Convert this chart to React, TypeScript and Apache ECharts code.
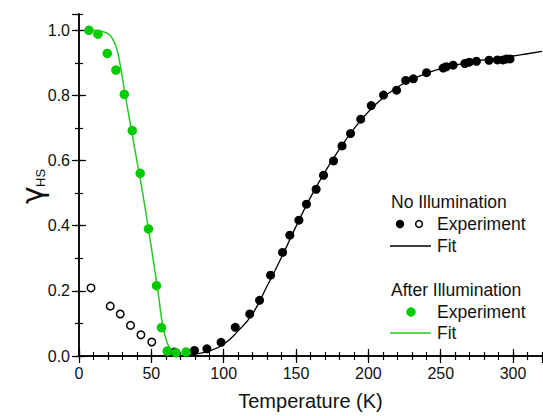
import React, { useEffect, useRef } from "react";
import * as echarts from "echarts";

const xTicks = [0, 50, 100, 150, 200, 250, 300];
const yTicks = [0, 0.2, 0.4, 0.6, 0.8, 1.0];

const noIllumFilled: [number, number][] = [
  [66, 0.012], [79.8, 0.017], [88.4, 0.022], [98.2, 0.042], [108, 0.088], [118, 0.129],
  [124.8, 0.171], [132.4, 0.248], [140.7, 0.318], [145.7, 0.371], [152, 0.417], [157.2, 0.466],
  [163.9, 0.512], [169, 0.555], [175.9, 0.599], [181.8, 0.645], [187.7, 0.683], [194.7, 0.727],
  [202, 0.769], [210.5, 0.801], [219.5, 0.816], [225.8, 0.846], [231.1, 0.851], [240.2, 0.87],
  [251.7, 0.884], [253.8, 0.888], [258.6, 0.893], [266.7, 0.898], [269.7, 0.902], [274.7, 0.905],
  [283.4, 0.908], [289.2, 0.909], [293.1, 0.909], [295.6, 0.912], [297.9, 0.912],
];

const noIllumOpen: [number, number][] = [
  [8.3, 0.209], [21.6, 0.153], [28.5, 0.129], [35.6, 0.094], [42.8, 0.065], [50.3, 0.043],
];

const noIllumFit: [number, number][] = [
  [65, 0], [70, 0.002], [80, 0.006], [90, 0.016], [100, 0.036], [110, 0.077], [120, 0.13],
  [130, 0.215], [140, 0.303], [150, 0.398], [160, 0.487], [170, 0.565], [180, 0.635],
  [190, 0.697], [200, 0.75], [210, 0.792], [220, 0.825], [230, 0.849], [240, 0.868],
  [250, 0.882], [260, 0.893], [270, 0.902], [280, 0.909], [290, 0.915], [300, 0.921],
  [310, 0.928], [320, 0.935],
];

const afterIllum: [number, number][] = [
  [6.9, 1.0], [13.1, 0.988], [19.5, 0.929], [25.5, 0.878], [31.3, 0.803], [36.8, 0.692],
  [42.3, 0.561], [48, 0.39], [53.6, 0.216], [57, 0.087], [61, 0.015], [67, 0.01], [74, 0.012],
];

const afterIllumFit: [number, number][] = [
  [5, 1.0], [10, 1.0], [15, 0.997], [20, 0.99], [23, 0.975], [26, 0.945], [29, 0.88],
  [32, 0.8], [36, 0.7], [40, 0.6], [44, 0.5], [48, 0.39], [52, 0.275], [55, 0.185],
  [58, 0.09], [61, 0.04], [64, 0.017], [67, 0.008], [70, 0.003],
];

const GREEN = "#00cc00";
const FONT = "'Liberation Sans', Arial, sans-serif";

export default function App() {
  const ref = useRef<HTMLDivElement>(null);
  useEffect(() => {
    if (!ref.current) return;
    const chart = echarts.init(ref.current, undefined, { renderer: "svg" });
    const axisLine = { show: true, lineStyle: { color: "#000", width: 1.5 } };
    const majorX = {
      type: "value", min: 0, max: 320, interval: 50,
      axisLine, splitLine: { show: false },
      axisTick: { inside: true, length: 7, lineStyle: { color: "#000", width: 1.2 } },
    };
    const minorX = {
      type: "value", min: 0, max: 320, interval: 10,
      axisLine: { show: false }, splitLine: { show: false }, axisLabel: { show: false },
      axisTick: { inside: true, length: 4, lineStyle: { color: "#000", width: 1.2 } },
    };
    const majorY = {
      type: "value", min: 0, max: 1.05, interval: 0.2,
      axisLine, splitLine: { show: false },
      axisTick: { inside: true, length: 7, lineStyle: { color: "#000", width: 1.2 } },
    };
    const minorY = {
      type: "value", min: 0, max: 1.05, interval: 0.1,
      axisLine: { show: false }, splitLine: { show: false }, axisLabel: { show: false },
      axisTick: { inside: true, length: 4, lineStyle: { color: "#000", width: 1.2 } },
    };
    const legendText = (x: number, y: number, text: string) => ({
      type: "text", x, y,
      style: { text, font: `17.5px ${FONT}`, fill: "#111", textAlign: "left", textVerticalAlign: "middle" },
    });
    chart.setOption({
      animation: false,
      textStyle: { fontFamily: FONT },
      grid: { left: 79, right: 1, top: 14, bottom: 57 },
      xAxis: [
        {
          ...majorX, position: "bottom",
          name: "Temperature (K)", nameLocation: "middle", nameGap: 35,
          nameTextStyle: { fontSize: 20, color: "#111", fontFamily: FONT },
          axisLabel: {
            show: true, fontSize: 16, color: "#111", margin: 9, showMaxLabel: false,
            formatter: (v: number) => (xTicks.includes(v) ? String(v) : ""),
          },
        },
        { ...minorX, position: "bottom" },
        { ...majorX, position: "top", axisLabel: { show: false } },
        { ...minorX, position: "top" },
      ],
      yAxis: [
        {
          ...majorY, position: "left",
          axisLabel: {
            show: true, fontSize: 16, color: "#111", margin: 9, showMaxLabel: false,
            formatter: (v: number) =>
              yTicks.some((t) => Math.abs(t - v) < 1e-6) ? v.toFixed(1) : "",
          },
        },
        { ...minorY, position: "left" },
        { ...majorY, position: "right", axisLabel: { show: false } },
        { ...minorY, position: "right" },
      ],
      series: [
        {
          name: "No Illumination Fit", type: "line", data: noIllumFit, smooth: true,
          showSymbol: false, lineStyle: { color: "#000", width: 1.3 }, z: 2,
        },
        {
          name: "After Illumination Fit", type: "line", data: afterIllumFit, smooth: true,
          showSymbol: false, lineStyle: { color: "#22cc22", width: 1.5 }, z: 2,
        },
        {
          name: "No Illumination Experiment (open)", type: "scatter", data: noIllumOpen,
          symbol: "circle", symbolSize: 7.5,
          itemStyle: { color: "#fff", borderColor: "#000", borderWidth: 1.5, opacity: 1 }, z: 3,
        },
        {
          name: "No Illumination Experiment", type: "scatter", data: noIllumFilled,
          symbol: "circle", symbolSize: 9, itemStyle: { color: "#000", opacity: 1 }, z: 3,
        },
        {
          name: "After Illumination Experiment", type: "scatter", data: afterIllum,
          symbol: "circle", symbolSize: 9.5, itemStyle: { color: GREEN, opacity: 1 }, z: 4,
        },
      ],
      graphic: [
        {
          type: "group", x: 32, y: 204, rotation: Math.PI / 2,
          children: [
            {
              type: "text", x: 0, y: 0,
              style: { text: "γ", font: `30px 'DejaVu Sans', sans-serif`, fill: "#111", textAlign: "left", textVerticalAlign: "middle" },
            },
            {
              type: "text", x: 17, y: 8,
              style: { text: "HS", font: `13px ${FONT}`, fill: "#111", textAlign: "left", textVerticalAlign: "middle" },
            },
          ],
        },
        legendText(391, 202, "No Illumination"),
        { type: "circle", shape: { cx: 400, cy: 224, r: 4.2 }, style: { fill: "#000" } },
        { type: "circle", shape: { cx: 419, cy: 224, r: 3.4 }, style: { fill: "#fff", stroke: "#000", lineWidth: 1.5 } },
        legendText(437, 224, "Experiment"),
        { type: "line", shape: { x1: 390, y1: 246, x2: 431, y2: 246 }, style: { stroke: "#000", lineWidth: 1.3 } },
        legendText(437, 246, "Fit"),
        legendText(391, 290, "After Illumination"),
        { type: "circle", shape: { cx: 411, cy: 312, r: 4.7 }, style: { fill: GREEN } },
        legendText(437, 312, "Experiment"),
        { type: "line", shape: { x1: 390, y1: 333, x2: 431, y2: 333 }, style: { stroke: "#22cc22", lineWidth: 1.5 } },
        legendText(437, 333, "Fit"),
      ],
    });
    return () => chart.dispose();
  }, []);
  return <div ref={ref} style={{ width: 543, height: 416, position: "absolute", left: 0, top: 0 }} />;
}
